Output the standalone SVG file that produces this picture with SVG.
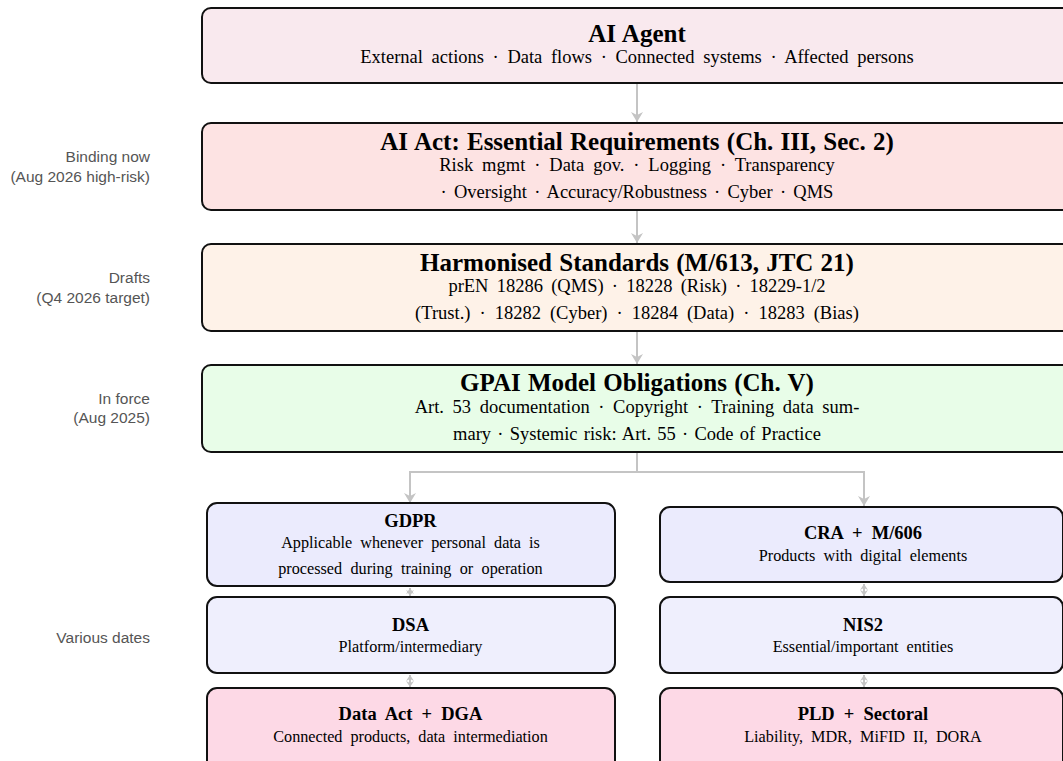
<svg xmlns="http://www.w3.org/2000/svg" width="1063" height="761" viewBox="0 0 1063 761">
<style>
.box{stroke:#111;stroke-width:2}
.t{font-family:"Liberation Serif",serif;font-weight:bold;font-size:25px;fill:#000;text-anchor:middle;word-spacing:1px}
.ts{font-family:"Liberation Serif",serif;font-weight:bold;font-size:18.5px;fill:#000;text-anchor:middle;word-spacing:4.5px}
.s{font-family:"Liberation Serif",serif;font-size:18.5px;fill:#000;text-anchor:middle;word-spacing:4px}
.sm{font-family:"Liberation Serif",serif;font-size:16.2px;fill:#000;text-anchor:middle;word-spacing:4px}
.lab{font-family:"Liberation Sans",sans-serif;font-size:15.5px;fill:#555;text-anchor:end}
.con{stroke:#c4c4c4;stroke-width:2;fill:none}
</style>
<defs>
<marker id="ah" markerWidth="12" markerHeight="12" refX="10" refY="6" orient="auto" markerUnits="userSpaceOnUse">
<path d="M0,0 L10,6 L0,12 L3,6 Z" fill="#c4c4c4"/>
</marker>
<marker id="ahs" markerWidth="8" markerHeight="8" refX="6" refY="4" orient="auto-start-reverse" markerUnits="userSpaceOnUse">
<path d="M0,0 L6,4 L0,8 L2,4 Z" fill="#c4c4c4"/>
</marker>
</defs>
<g id="labels">
<text class="lab" x="150" y="162">Binding now</text>
<text class="lab" x="150" y="182">(Aug 2026 high-risk)</text>
<text class="lab" x="150" y="283">Drafts</text>
<text class="lab" x="150" y="303">(Q4 2026 target)</text>
<text class="lab" x="150" y="404">In force</text>
<text class="lab" x="150" y="423">(Aug 2025)</text>
<text class="lab" x="150" y="643">Various dates</text>
</g>
<g id="connectors">
<line class="con" x1="637" y1="83" x2="637" y2="122" marker-end="url(#ah)"/>
<line class="con" x1="637" y1="210" x2="637" y2="243" marker-end="url(#ah)"/>
<line class="con" x1="637" y1="331" x2="637" y2="364" marker-end="url(#ah)"/>
<path class="con" d="M637,452 V472 H410 V503" marker-end="url(#ah)"/>
<path class="con" d="M637,472 H864 V506" marker-end="url(#ah)"/>
<line class="con" x1="410" y1="588" x2="410" y2="596" stroke-width="1.5" marker-start="url(#ahs)" marker-end="url(#ahs)"/>
<line class="con" x1="410" y1="675" x2="410" y2="687" stroke-width="1.5" marker-start="url(#ahs)" marker-end="url(#ahs)"/>
<line class="con" x1="864" y1="584" x2="864" y2="596" stroke-width="1.5" marker-start="url(#ahs)" marker-end="url(#ahs)"/>
<line class="con" x1="864" y1="675" x2="864" y2="687" stroke-width="1.5" marker-start="url(#ahs)" marker-end="url(#ahs)"/>
</g>
<g id="agent">
<rect class="box" x="202" y="8" width="872" height="75" rx="9" fill="#f9e9ee"/>
<text class="t" x="637" y="42">AI Agent</text>
<text class="s" x="637" y="63">External actions · Data flows · Connected systems · Affected persons</text>
</g>
<g id="aiact">
<rect class="box" x="202" y="123" width="872" height="87" rx="9" fill="#fde3e3"/>
<text class="t" x="637" y="150">AI Act: Essential Requirements (Ch. III, Sec. 2)</text>
<text class="s" x="637" y="171" style="word-spacing:4.3px">Risk mgmt · Data gov. · Logging · Transparency</text>
<text class="s" x="637" y="198" style="word-spacing:2.6px">· Oversight · Accuracy/Robustness · Cyber · QMS</text>
</g>
<g id="standards">
<rect class="box" x="202" y="244" width="872" height="87" rx="9" fill="#fef2e8"/>
<text class="t" x="637" y="271">Harmonised Standards (M/613, JTC 21)</text>
<text class="s" x="637" y="292" style="word-spacing:3.6px">prEN 18286 (QMS) · 18228 (Risk) · 18229-1/2</text>
<text class="s" x="637" y="319" style="word-spacing:4.4px">(Trust.) · 18282 (Cyber) · 18284 (Data) · 18283 (Bias)</text>
</g>
<g id="gpai">
<rect class="box" x="202" y="365" width="872" height="87" rx="9" fill="#e8fde8"/>
<text class="t" x="637" y="391">GPAI Model Obligations (Ch. V)</text>
<text class="s" x="637" y="413">Art. 53 documentation · Copyright · Training data sum-</text>
<text class="s" x="637" y="440" style="word-spacing:1.6px">mary · Systemic risk: Art. 55 · Code of Practice</text>
</g>
<g id="gdpr">
<rect class="box" x="207" y="503" width="408" height="83" rx="10" fill="#ebebfd"/>
<text class="ts" x="410.5" y="527">GDPR</text>
<text class="sm" x="410.5" y="548">Applicable whenever personal data is</text>
<text class="sm" x="410.5" y="574" style="word-spacing:4.3px">processed during training or operation</text>
</g>
<g id="dsa">
<rect class="box" x="207" y="597" width="408" height="76" rx="10" fill="#efeffd"/>
<text class="ts" x="410.5" y="631">DSA</text>
<text class="sm" x="410.5" y="652">Platform/intermediary</text>
</g>
<g id="dataact">
<rect class="box" x="207" y="688" width="408" height="90" rx="10" fill="#fdd9e6"/>
<text class="ts" x="410.5" y="720">Data Act + DGA</text>
<text class="sm" x="410.5" y="742">Connected products, data intermediation</text>
</g>
<g id="cra">
<rect class="box" x="660" y="507" width="403" height="75" rx="10" fill="#ebebfd"/>
<text class="ts" x="863" y="539">CRA + M/606</text>
<text class="sm" x="863" y="561">Products with digital elements</text>
</g>
<g id="nis2">
<rect class="box" x="660" y="597" width="403" height="76" rx="10" fill="#efeffd"/>
<text class="ts" x="863" y="631">NIS2</text>
<text class="sm" x="863" y="652">Essential/important entities</text>
</g>
<g id="pld">
<rect class="box" x="660" y="688" width="403" height="90" rx="10" fill="#fdd9e6"/>
<text class="ts" x="863" y="720">PLD + Sectoral</text>
<text class="sm" x="863" y="742">Liability, MDR, MiFID II, DORA</text>
</g>
</svg>
